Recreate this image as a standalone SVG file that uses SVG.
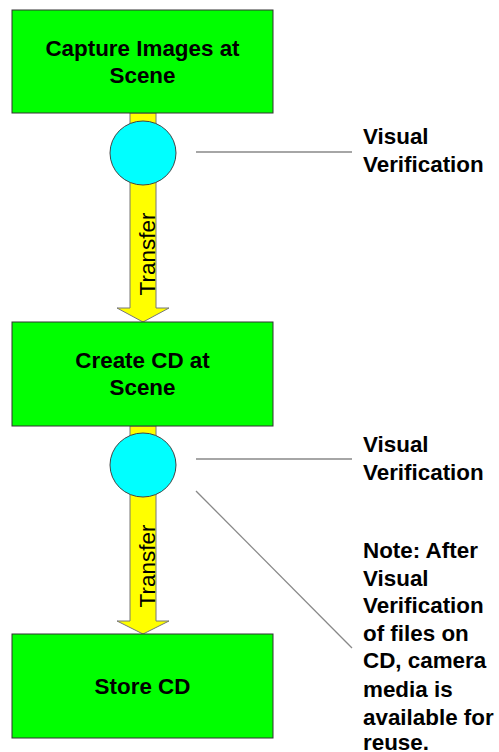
<svg xmlns="http://www.w3.org/2000/svg" width="499" height="752" viewBox="0 0 499 752">
<style>
.box{fill:#00FF00;stroke:#333;stroke-width:1}
.circ{fill:#00FFFF;stroke:#444;stroke-width:1}
.arrow{fill:#FFFF00;stroke:#777;stroke-width:1}
.line{stroke:#888;stroke-width:1.3;fill:none}
.t{font-family:"Liberation Sans",Arial,sans-serif;font-weight:bold;font-size:22.4px;fill:#000}
.tc{text-anchor:middle}
.tr{font-family:"Liberation Sans",Arial,sans-serif;font-size:22.5px;fill:#000;text-anchor:middle}
</style>
<rect width="499" height="752" fill="#fff"/>
<g id="connectors">
<polygon class="arrow" points="130,113 156,113 156,308 169,308 143,322 117,308 130,308"/>
<polygon class="arrow" points="130,426 156,426 156,621 169,621 143,634 117,621 130,621"/>
<line class="line" x1="196" y1="152" x2="352" y2="152"/>
<line class="line" x1="196" y1="459" x2="352" y2="459"/>
<line class="line" x1="196" y1="491" x2="352" y2="648"/>
<text class="tr" transform="translate(155,254) rotate(-90)">Transfer</text>
<text class="tr" transform="translate(155,566) rotate(-90)">Transfer</text>
</g>
<g id="capture">
<rect class="box" x="12" y="10" width="261" height="103"/>
<text class="t tc" x="142.5" y="55.5">Capture Images at</text>
<text class="t tc" x="142.5" y="82.5">Scene</text>
</g>
<g id="verify1">
<ellipse class="circ" cx="143" cy="153" rx="33" ry="32"/>
</g>
<g id="create">
<rect class="box" x="12" y="322" width="261" height="104"/>
<text class="t tc" x="142.5" y="368">Create CD at</text>
<text class="t tc" x="142.5" y="395">Scene</text>
</g>
<g id="verify2">
<ellipse class="circ" cx="143" cy="465" rx="33" ry="32"/>
</g>
<g id="store">
<rect class="box" x="12" y="634" width="261" height="104"/>
<text class="t tc" x="142.5" y="694">Store CD</text>
</g>
<g id="label1">
<text class="t" x="363" y="144">Visual</text>
<text class="t" x="363" y="172">Verification</text>
</g>
<g id="label2">
<text class="t" x="363" y="452">Visual</text>
<text class="t" x="363" y="480">Verification</text>
</g>
<g id="note">
<text class="t" x="363" y="558">Note: After</text>
<text class="t" x="363" y="586">Visual</text>
<text class="t" x="363" y="613">Verification</text>
<text class="t" x="363" y="641">of files on</text>
<text class="t" x="363" y="668">CD, camera</text>
<text class="t" x="363" y="697">media is</text>
<text class="t" x="363" y="725">available for</text>
<text class="t" x="363" y="750">reuse.</text>
</g>
</svg>
